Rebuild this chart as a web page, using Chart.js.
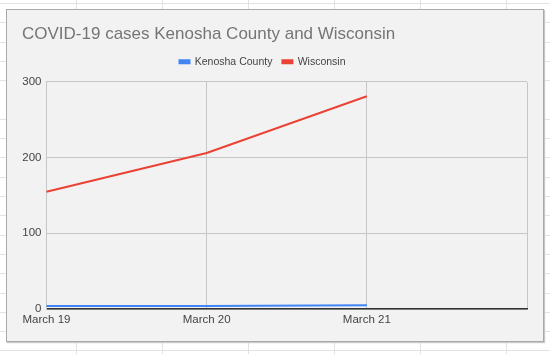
<!DOCTYPE html>
<html>
<head>
<meta charset="utf-8">
<script src="https://cdn.jsdelivr.net/npm/chart.js@4"></script>
<style>
  body {
    margin: 0;
    width: 550px;
    height: 354px;
    overflow: hidden;
    background-color: #fff;
    background-image:
      repeating-linear-gradient(90deg, transparent 0, transparent 76px, #e2e2e2 76px, #e2e2e2 77px, transparent 77px, transparent 86px),
      repeating-linear-gradient(180deg, transparent 0, transparent 3px, #e2e2e2 3px, #e2e2e2 4px, transparent 4px, transparent 19.3px);
    position: relative;
    font-family: Arial, "Liberation Sans", sans-serif;
  }
  #panel {
    position: absolute;
    left: 6px;
    top: 9px;
    width: 536px;
    height: 331px;
    background: #f2f2f2;
    border: 1px solid #a9a9a9;
    box-shadow: 1px 1px 1px #c8c8c8;
  }
  #wrap {
    position: absolute;
    left: 0;
    top: 0;
    width: 550px;
    height: 354px;
  }
</style>
</head>
<body>
<div id="panel"></div>
<div id="wrap"><canvas id="chart" width="550" height="354"></canvas></div>
<script>
const chartTitle = 'COVID-19 cases Kenosha County and Wisconsin';
const dates = ['March 19', 'March 20', 'March 21', ''];
const kenosha = [4, 4, 5];
const wisconsin = [155, 206, 281];
const yTicks = [0, 100, 200, 300];

const ctx = document.getElementById('chart').getContext('2d');

// nudge the legend a bit left, like the sheets chart
const legendShift = {
  id: 'legendShift',
  afterLayout: (chart) => {
    if (chart.legend) {
      chart.legend.left -= 12;
      chart.legend.right -= 12;
    }
  },
};

new Chart(ctx, {
  type: 'line',
  data: {
    labels: dates,
    datasets: [
      {
        label: 'Kenosha County',
        data: kenosha,
        borderColor: '#4285f4',
        backgroundColor: '#4285f4',
        borderWidth: 2,
        pointRadius: 0,
        tension: 0,
      },
      {
        label: 'Wisconsin',
        data: wisconsin,
        borderColor: '#ea4335',
        backgroundColor: '#ea4335',
        borderWidth: 2,
        pointRadius: 0,
        tension: 0,
      },
    ],
  },
  plugins: [legendShift],
  options: {
    responsive: false,
    animation: false,
    maintainAspectRatio: false,
    layout: {
      padding: { left: 22, right: 23, top: 0, bottom: 0 },
    },
    scales: {
      x: {
        offset: false,
        grid: {
          color: '#c6c6c6',
          drawTicks: false,
        },
        border: {
          color: '#333',
          width: 1.5,
        },
        ticks: {
          color: '#444',
          font: { size: 11.5, family: 'Arial' },
          maxRotation: 0,
          autoSkip: false,
          padding: 4,
        },
        afterFit: (scale) => { scale.height = 45; },
      },
      // empty band between legend and plot
      spacer: {
        type: 'category',
        position: 'top',
        grid: { display: false },
        border: { display: false },
        ticks: { display: false },
        afterFit: (scale) => { scale.height = 5; },
      },
      y: {
        min: 0,
        max: 300,
        afterBuildTicks: (scale) => {
          scale.ticks = yTicks.map((v) => ({ value: v }));
        },
        grid: {
          color: '#c6c6c6',
          drawTicks: false,
        },
        border: {
          color: '#c6c6c6',
        },
        ticks: {
          color: '#444',
          font: { size: 11.5, family: 'Arial' },
          padding: 5,
        },
        afterFit: (scale) => { scale.width = 24.5; },
      },
    },
    plugins: {
      title: {
        display: true,
        text: chartTitle,
        align: 'start',
        color: '#757575',
        font: { size: 17, family: 'Arial', weight: 'normal' },
        padding: { top: 24, bottom: 2 },
      },
      legend: {
        display: true,
        position: 'top',
        align: 'center',
        labels: {
          color: '#444',
          font: { size: 10.5, family: 'Arial' },
          boxWidth: 10,
          boxHeight: 3,
          padding: 10,
        },
        onClick: () => {},
      },
      tooltip: { enabled: false },
    },
  },
});
</script>
</body>
</html>
